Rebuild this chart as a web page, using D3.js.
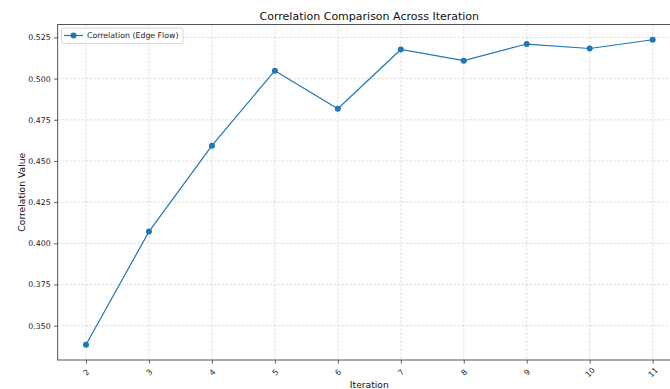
<!DOCTYPE html>
<html><head><meta charset="utf-8">
<script src="https://cdn.jsdelivr.net/npm/d3@7"></script>
<style>body{margin:0;background:#fff;} svg{display:block;font-family:"DejaVu Sans",sans-serif;}</style>
</head><body>
<svg id="c" width="670" height="389"></svg>
<script>
const iterations = [2,3,4,5,6,7,8,9,10,11];
const correlation = [0.3384,0.4071,0.4593,0.5048,0.4817,0.5177,0.5109,0.5210,0.5183,0.5236];
const yTicks = [0.350,0.375,0.400,0.425,0.450,0.475,0.500,0.525];
const seriesName = "Correlation (Edge Flow)";
const titleText = "Correlation Comparison Across Iteration";
const xLabel = "Iteration";
const yLabel = "Correlation Value";

const svg = d3.select("#c");
const L = 57.65, R = 681, T = 24.5, B = 360;
const xr = d3.extent(iterations), xm = (xr[1]-xr[0])*0.05;
const yr = d3.extent(correlation), ym = (yr[1]-yr[0])*0.05;
const x = d3.scaleLinear().domain([xr[0]-xm, xr[1]+xm]).range([L, R]);
const y = d3.scaleLinear().domain([yr[0]-ym, yr[1]+ym]).range([B, T]);

// grid
const g = svg.append("g");
g.selectAll(".gx").data(iterations).join("line")
  .attr("x1", d=>x(d)).attr("x2", d=>x(d)).attr("y1", T).attr("y2", B)
  .attr("stroke", "#b0b0b0").attr("stroke-opacity", 0.7).attr("stroke-width", 0.7).attr("stroke-dasharray", "2,2");
g.selectAll(".gy").data(yTicks).join("line")
  .attr("x1", L).attr("x2", R).attr("y1", d=>y(d)).attr("y2", d=>y(d))
  .attr("stroke", "#b0b0b0").attr("stroke-opacity", 0.7).attr("stroke-width", 0.7).attr("stroke-dasharray", "2,2");

// axes
const fs = "7.8px";
const xAxis = svg.append("g").attr("transform", `translate(0,${B})`)
  .call(d3.axisBottom(x).tickValues(iterations).tickSize(3.5).tickPadding(3).tickFormat(d3.format("d")));
xAxis.selectAll("text").attr("dy", null).attr("y", null)
  .attr("text-anchor", "middle").attr("dominant-baseline", "central")
  .attr("transform", `translate(0,12.5) rotate(-45)`);
const yAxis = svg.append("g").attr("transform", `translate(${L},0)`)
  .call(d3.axisLeft(y).tickValues(yTicks).tickSize(3.5).tickPadding(3.5).tickFormat(d3.format(".3f")));
[xAxis, yAxis].forEach(a => {
  a.select(".domain").remove();
  a.selectAll("line").attr("stroke", "#333").attr("stroke-width", 0.8);
  a.selectAll("text").attr("fill", "#222").style("font-size", fs).style("font-family", '"DejaVu Sans"');
});
// spines
svg.append("rect").attr("x", L).attr("y", T).attr("width", R-L).attr("height", B-T)
  .attr("stroke", "#555").attr("stroke-width", 1).attr("fill", "none");

// line
const color = "#1f77b4";
svg.append("path").datum(iterations.map((d,i)=>[d, correlation[i]]))
  .attr("fill", "none").attr("stroke", color).attr("stroke-width", 1.2)
  .attr("d", d3.line().x(d=>x(d[0])).y(d=>y(d[1])));
svg.selectAll(".pt").data(iterations).join("circle")
  .attr("cx", d=>x(d)).attr("cy", (d,i)=>y(correlation[i])).attr("r", 3).attr("fill", color);

// legend
const lg = svg.append("g");
lg.append("rect").attr("x", 61.5).attr("y", 28).attr("width", 121.5).attr("height", 15.5).attr("rx", 2)
  .attr("fill", "#fff").attr("fill-opacity", 0.8).attr("stroke", "#ccc").attr("stroke-width", 0.8);
lg.append("line").attr("x1", 64).attr("x2", 83).attr("y1", 35.5).attr("y2", 35.5).attr("stroke", color).attr("stroke-width", 1.2);
lg.append("circle").attr("cx", 73.5).attr("cy", 35.5).attr("r", 3).attr("fill", color);
lg.append("text").attr("x", 87).attr("y", 35.5).attr("dominant-baseline", "central")
  .style("font-size", fs).attr("fill", "#222").text(seriesName);

// labels
const cx = (L+R)/2;
svg.append("text").attr("x", cx).attr("y", 20).attr("text-anchor", "middle")
  .style("font-size", "11px").attr("fill", "#111").text(titleText);
svg.append("text").attr("x", cx).attr("y", 388).attr("text-anchor", "middle")
  .style("font-size", "9.2px").attr("fill", "#111").text(xLabel);
svg.append("text").attr("transform", `translate(25,${(T+B)/2}) rotate(-90)`).attr("text-anchor", "middle")
  .style("font-size", "9.2px").attr("fill", "#111").text(yLabel);
</script>
</body></html>
